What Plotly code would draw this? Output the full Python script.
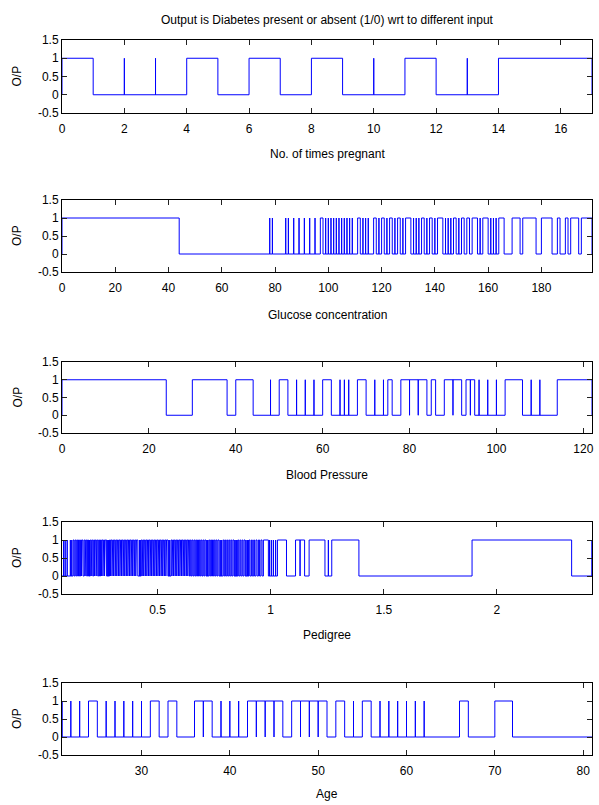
import plotly.graph_objects as go

W, H = 599, 805
ML, MR = 62, 7

title_text = "Output is Diabetes present or absent (1/0) wrt to different input"
y_title = "O/P"
x_titles = ["No. of times pregnant", "Glucose concentration", "Blood Pressure", "Pedigree", "Age"]

# x ranges (min/max of each input)
x_ranges = [(0, 17), (0, 199), (0, 122), (0.078, 2.42), (21, 81)]
x_tickvals = [
    [0, 2, 4, 6, 8, 10, 12, 14, 16],
    [0, 20, 40, 60, 80, 100, 120, 140, 160, 180],
    [0, 20, 40, 60, 80, 100, 120],
    [0.5, 1, 1.5, 2],
    [30, 40, 50, 60, 70, 80],
]
x_ticktext = [
    ["0", "2", "4", "6", "8", "10", "12", "14", "16"],
    ["0", "20", "40", "60", "80", "100", "120", "140", "160", "180"],
    ["0", "20", "40", "60", "80", "100", "120"],
    ["0.5", "1", "1.5", "2"],
    ["30", "40", "50", "60", "70", "80"],
]
y_tickvals = [-0.5, 0, 0.5, 1, 1.5]
y_ticktext = ["-0.5", "0", "0.5", "1", "1.5"]

# intervals where output = 1 (start, end); start == end is a single spike
preg_high = [(0, 1), (2, 2), (3, 3), (4, 5), (6, 7), (8, 9), (10, 10), (11, 12), (13, 13), (14, 17)]

gluc_high = [
    (0, 44),
    (78, 78), (79, 79), (84, 84), (85, 85), (87, 87), (89, 89), (91, 91), (93, 93), (95, 95),
    (97, 98), (99, 99), (100, 100), (101, 101), (102, 102), (103, 103), (104, 104), (105, 105),
    (106, 106), (107, 107), (108, 108), (109, 109), (111, 112), (113, 113), (114, 114), (115, 115),
    (117, 118), (119, 119), (120, 121), (122, 122), (123, 124), (125, 125), (126, 127), (128, 128),
    (129, 131), (132, 132), (133, 133), (134, 134), (135, 136), (137, 137), (138, 139), (140, 140),
    (141, 143), (144, 144), (145, 145), (146, 146), (147, 148), (149, 149), (150, 151), (152, 153),
    (154, 156), (157, 157), (158, 160), (161, 161), (162, 162), (163, 163), (164, 166),
    (169, 172), (173, 178), (180, 184), (186, 187), (189, 190), (191, 194), (195, 199),
]

bp_high = [
    (0, 24), (30, 38), (40, 44), (48, 48), (50, 52), (54, 54), (56, 56), (58, 58), (60, 62),
    (64, 64), (65, 65), (66, 66), (68, 70), (72, 72), (74, 74), (75, 76), (78, 80), (80, 82),
    (82, 84), (85, 86), (88, 90), (90, 92), (93, 94), (94, 95), (96, 96), (98, 98), (100, 100),
    (102, 106), (108, 108), (110, 110), (114, 122),
]

ped_high = [
    (0.085, 0.085), (0.101, 0.101), (0.127, 0.131), (0.135, 0.139), (0.143, 0.147), (0.151, 0.155),
    (0.160, 0.164), (0.167, 0.171), (0.176, 0.180), (0.183, 0.187), (0.191, 0.195), (0.203, 0.207),
    (0.210, 0.214), (0.218, 0.222), (0.225, 0.229), (0.232, 0.236), (0.240, 0.244), (0.248, 0.252),
    (0.255, 0.259), (0.262, 0.266), (0.269, 0.275), (0.288, 0.292), (0.295, 0.299), (0.302, 0.306),
    (0.309, 0.313), (0.316, 0.320), (0.323, 0.327), (0.330, 0.334), (0.337, 0.341), (0.344, 0.348),
    (0.351, 0.355), (0.358, 0.362), (0.365, 0.369), (0.372, 0.376), (0.379, 0.383), (0.386, 0.390),
    (0.393, 0.397), (0.400, 0.404), (0.407, 0.413), (0.428, 0.432), (0.435, 0.439), (0.442, 0.446),
    (0.449, 0.453), (0.456, 0.460), (0.463, 0.467), (0.470, 0.474), (0.477, 0.481), (0.484, 0.488),
    (0.491, 0.495), (0.498, 0.502), (0.505, 0.509), (0.512, 0.516), (0.519, 0.523), (0.526, 0.530),
    (0.533, 0.537), (0.540, 0.546), (0.560, 0.564), (0.567, 0.571), (0.574, 0.578), (0.581, 0.585),
    (0.588, 0.592), (0.595, 0.599), (0.602, 0.606), (0.609, 0.613), (0.616, 0.620), (0.623, 0.627),
    (0.630, 0.634), (0.637, 0.641), (0.645, 0.649), (0.653, 0.657), (0.661, 0.665), (0.669, 0.673),
    (0.677, 0.681), (0.685, 0.689), (0.693, 0.697), (0.701, 0.705), (0.709, 0.714), (0.727, 0.731),
    (0.735, 0.739), (0.743, 0.747), (0.751, 0.755), (0.759, 0.763), (0.767, 0.772), (0.789, 0.793),
    (0.797, 0.801), (0.806, 0.810), (0.815, 0.819), (0.824, 0.828), (0.833, 0.838), (0.855, 0.859),
    (0.864, 0.868), (0.873, 0.877), (0.882, 0.887), (0.905, 0.909), (0.915, 0.919), (0.925, 0.929),
    (0.935, 0.940), (0.946, 0.951), (0.957, 0.962), (0.968, 0.990), (1.022, 1.022),
    (1.030, 1.070), (1.110, 1.130), (1.130, 1.150), (1.170, 1.240), (1.255, 1.255),
    (1.270, 1.390), (1.890, 2.330), (2.420, 2.420),
]
# single positive cases between the intervals above
ped_spikes = [
    0.092, 0.115, 0.121, 0.133, 0.141, 0.149, 0.157, 0.173, 0.181, 0.189, 0.199, 0.216, 0.238,
    0.246, 0.267, 0.280, 0.284, 0.300, 0.314, 0.328, 0.342, 0.356, 0.370, 0.384, 0.398, 0.416,
    0.420, 0.424, 0.440, 0.454, 0.468, 0.482, 0.496, 0.510, 0.524, 0.538, 0.550, 0.554, 0.572,
    0.586, 0.600, 0.614, 0.628, 0.643, 0.659, 0.675, 0.691, 0.707, 0.718, 0.722, 0.733, 0.749,
    0.765, 0.777, 0.782, 0.803, 0.821, 0.842, 0.847, 0.851, 0.870, 0.891, 0.897, 0.901, 0.922,
    0.943, 0.965, 0.995, 1.003, 1.012,
]

age_high = [
    (21, 21), (22, 22), (23, 23), (24, 25), (26, 26), (27, 27), (28, 28), (29, 29), (30, 30),
    (31, 32), (33, 34), (36, 37), (37, 38), (39, 39), (40, 40), (41, 41), (42, 43), (43, 44),
    (44, 45), (45, 46), (47, 48), (48, 49), (49, 50), (50, 51), (52, 53), (54, 54), (55, 56),
    (57, 57), (58, 58), (59, 59), (60, 60), (61, 61), (62, 62), (66, 67), (70, 72),
]

ped_all = sorted(ped_high + [(s, s) for s in ped_spikes])
panels_high = [preg_high, gluc_high, bp_high, ped_all, age_high]

# panel pixel boxes (top, bottom) and x-title pixel rows
boxes = [(40, 113), (200, 272), (362, 433), (522, 594), (683, 755)]
xtitle_rows = [154, 315, 475, 635, 794]


def py(p):
    return 1 - p / H


def px(p):
    return (p - ML) / (W - ML - MR)


def build_line(high, xmin, xmax):
    xs, ys = [xmin], [0]
    for s, e in high:
        xs += [s, s, e, e]
        ys += [0, 1, 1, 0]
    xs.append(xmax)
    ys.append(0)
    return xs, ys


fig = go.Figure()
font = dict(family="Liberation Sans, Arial, sans-serif", size=12, color="black")
layout = dict(
    width=W, height=H,
    margin=dict(l=ML, r=MR, t=0, b=0),
    paper_bgcolor="white", plot_bgcolor="white",
    showlegend=False, font=font,
)
annotations = []
for i, high in enumerate(panels_high):
    n = "" if i == 0 else str(i + 1)
    xmin, xmax = x_ranges[i]
    xs, ys = build_line(high, xmin, xmax)
    fig.add_trace(go.Scatter(
        x=xs, y=ys, mode="lines", line=dict(color="#0000ff", width=1),
        xaxis="x" + n, yaxis="y" + n, hoverinfo="skip",
    ))
    top, bot = boxes[i]
    layout["xaxis" + n] = dict(
        domain=[0, 1], range=[xmin, xmax], anchor="y" + n,
        tickmode="array", tickvals=x_tickvals[i], ticktext=x_ticktext[i],
        ticks="inside", ticklen=5, tickwidth=1, tickcolor="#222",
        showline=True, linecolor="black", linewidth=1, mirror="ticks",
        showgrid=False, zeroline=False, tickfont=font,
        ticklabelstandoff=5, ticklabeloverflow="allow", automargin=False,
    )
    layout["yaxis" + n] = dict(
        domain=[py(bot), py(top)], range=[-0.5, 1.5], anchor="x" + n,
        tickmode="array", tickvals=y_tickvals, ticktext=y_ticktext,
        ticks="inside", ticklen=5, tickwidth=1, tickcolor="#222",
        showline=True, linecolor="black", linewidth=1, mirror="ticks",
        showgrid=False, zeroline=False, tickfont=font, automargin=False,
    )
    annotations.append(dict(
        text=x_titles[i], xref="paper", yref="paper",
        x=px((ML + W - MR) / 2), y=py(xtitle_rows[i]), showarrow=False,
        font=font, xanchor="center", yanchor="middle",
    ))
    annotations.append(dict(
        text=y_title, xref="paper", yref="paper",
        x=px(17), y=py((top + bot) / 2), showarrow=False, textangle=-90,
        font=font, xanchor="center", yanchor="middle",
    ))

annotations.append(dict(
    text=title_text, xref="paper", yref="paper",
    x=px((ML + W - MR) / 2), y=py(20), showarrow=False,
    font=font, xanchor="center", yanchor="middle",
))
layout["annotations"] = annotations
fig.update_layout(**layout)
fig.write_html(
    "out.html",
    config={"displayModeBar": False},
    post_script="document.body.style.margin='0';document.body.style.overflow='hidden';",
)
